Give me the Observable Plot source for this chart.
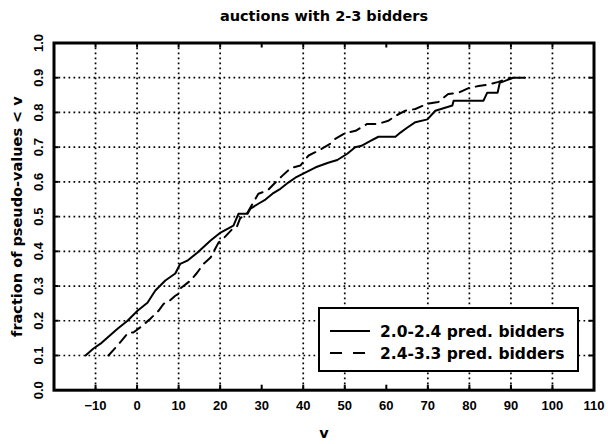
<!DOCTYPE html>
<html>
<head>
<meta charset="utf-8">
<script src="https://cdn.jsdelivr.net/npm/d3@7"></script>
<script src="https://cdn.jsdelivr.net/npm/@observablehq/plot@0.6"></script>
<style>
  html, body { margin: 0; padding: 0; background: #fff; }
  #wrap { position: relative; width: 608px; height: 444px; }
  #legend { position: absolute; left: 318px; top: 307px; }
</style>
</head>
<body>
<div id="wrap"></div>
<script>
// ---- data ----
const title = "auctions with 2-3 bidders";
const xLabel = "v";
const yLabel = "fraction of pseudo-values < v";
const seriesNames = ["2.0-2.4 pred. bidders", "2.4-3.3 pred. bidders"];

const xTicks = [-10, 0, 10, 20, 30, 40, 50, 60, 70, 80, 90, 100, 110];
const xGridTicks = [-10, 0, 10, 20, 40, 50, 70, 80, 90, 100];
const yTicks = [0.0, 0.1, 0.2, 0.3, 0.4, 0.5, 0.6, 0.7, 0.8, 0.9, 1.0];
const yGridTicks = [0.1, 0.2, 0.3, 0.4, 0.5, 0.6, 0.7, 0.8, 0.9];

// series 1: 2.0-2.4 predicted bidders (solid)
const solidV = [-12.4, -10.5, -8.8, -7.1, -4.7, -2.3, 0.1, 2.5, 4.4, 6.8, 9.2, 10.4, 12.1, 14.5, 17.7, 20.1, 23.2, 24.4, 26.6, 27.3, 29.2, 30.9, 32.6, 34.5, 36.4, 38.1, 40.0, 43.0, 46.0, 48.2, 50.6, 52.5, 54.0, 56.2, 58.1, 62.2, 63.4, 65.0, 67.0, 69.9, 71.8, 75.9, 76.2, 83.4, 84.3, 86.8, 87.3, 89.9, 90.5, 93.4];
const solidF = [0.100, 0.120, 0.134, 0.152, 0.177, 0.200, 0.229, 0.252, 0.287, 0.316, 0.336, 0.364, 0.373, 0.396, 0.431, 0.454, 0.474, 0.508, 0.508, 0.523, 0.537, 0.549, 0.566, 0.580, 0.598, 0.612, 0.624, 0.642, 0.655, 0.663, 0.681, 0.700, 0.704, 0.718, 0.730, 0.730, 0.742, 0.756, 0.772, 0.780, 0.805, 0.820, 0.834, 0.834, 0.857, 0.857, 0.885, 0.897, 0.900, 0.900];

// series 2: 2.4-3.3 predicted bidders (dashed)
const dashedV = [-6.9, -4.7, -2.1, -0.9, 1.3, 3.2, 5.2, 6.4, 7.3, 9.2, 10.0, 10.4, 12.9, 14.5, 16.0, 17.7, 19.6, 20.8, 23.0, 24.0, 24.8, 26.5, 28.2, 29.2, 31.4, 33.3, 35.0, 37.0, 39.3, 41.3, 43.7, 46.5, 47.7, 50.2, 52.6, 55.4, 58.0, 60.5, 62.2, 64.6, 67.0, 69.9, 72.5, 74.9, 77.4, 79.8, 82.2, 84.6, 87.0, 88.6, 89.9];
const dashedF = [0.100, 0.129, 0.166, 0.166, 0.186, 0.206, 0.229, 0.249, 0.252, 0.272, 0.278, 0.293, 0.316, 0.339, 0.364, 0.382, 0.425, 0.437, 0.465, 0.470, 0.495, 0.510, 0.545, 0.566, 0.575, 0.598, 0.618, 0.640, 0.647, 0.676, 0.690, 0.710, 0.724, 0.741, 0.747, 0.767, 0.767, 0.776, 0.790, 0.805, 0.810, 0.825, 0.830, 0.853, 0.857, 0.870, 0.876, 0.880, 0.888, 0.895, 0.900];

// ---- chart ----
const W = 608, H = 444;
const mL = 53.5, mR = 14.5, mT = 42.5, mB = 54.3;
const plotH = H - mT - mB, plotW = W - mL - mR;
const tickLen = 5;
const labelFont = "DejaVu Sans, sans-serif";
const tickFont = "Liberation Sans, Arial, sans-serif";

const chart = Plot.plot({
  width: W, height: H,
  marginLeft: mL, marginRight: mR, marginTop: mT, marginBottom: mB,
  style: { background: "white", color: "black" },
  x: { domain: [-20, 110] },
  y: { domain: [0, 1] },
  marks: [
    Plot.gridX(xGridTicks, { stroke: "black", strokeOpacity: 1, strokeWidth: 1.7, strokeDasharray: "1.7,3.3" }),
    Plot.gridY(yGridTicks, { stroke: "black", strokeOpacity: 1, strokeWidth: 1.7, strokeDasharray: "1.7,3.3" }),
    // inward ticks on four sides
    Plot.tickX(xTicks.slice(0, -1), { x: d => d, stroke: "black", strokeWidth: 2, insetTop: plotH - tickLen }),
    Plot.tickX(xTicks.slice(0, -1), { x: d => d, stroke: "black", strokeWidth: 2, insetBottom: plotH - tickLen }),
    Plot.tickY(yGridTicks, { y: d => d, stroke: "black", strokeWidth: 2, insetRight: plotW - tickLen }),
    Plot.tickY(yGridTicks, { y: d => d, stroke: "black", strokeWidth: 2, insetLeft: plotW - tickLen }),
    Plot.line(solidV, { x: solidV, y: solidF, stroke: "black", strokeWidth: 2 }),
    Plot.line(dashedV, { x: dashedV, y: dashedF, stroke: "black", strokeWidth: 2, strokeDasharray: "10,7" }),
    Plot.frame({ stroke: "black", strokeWidth: 3 }),
    Plot.axisX(xTicks, { tickSize: 0, tickPadding: 11, label: null, fontSize: 13, fontWeight: "bold", fontFamily: tickFont }),
    Plot.axisY([], { label: null, tickSize: 0 }),
    Plot.text(yTicks, { y: d => d, text: d => d.toFixed(1), frameAnchor: "left", textAnchor: "middle", lineAnchor: "middle", rotate: -90, dx: -15.5, fontSize: 13, fontWeight: "bold", fontFamily: tickFont }),
    Plot.text([yLabel], { text: d => d, frameAnchor: "left", textAnchor: "middle", lineAnchor: "middle", rotate: -90, dx: -36.5, fontSize: 14.5, fontWeight: "bold", fontFamily: labelFont }),
    Plot.text([xLabel], { text: d => d, frameAnchor: "bottom", textAnchor: "middle", lineAnchor: "middle", dy: 43, fontSize: 14.5, fontWeight: "bold", fontFamily: labelFont }),
    Plot.text([title], { text: d => d, frameAnchor: "top", textAnchor: "middle", lineAnchor: "middle", dy: -26.5, fontSize: 14.5, fontWeight: "bold", fontFamily: labelFont })
  ]
});
document.getElementById("wrap").appendChild(chart);

// ---- legend ----
const lg = d3.select("#wrap").append("svg").attr("id", "legend")
  .attr("width", 262).attr("height", 66);
lg.append("rect").attr("x", 1).attr("y", 1).attr("width", 259).attr("height", 63)
  .attr("fill", "white").attr("stroke", "black").attr("stroke-width", 2);
const rows = [{ name: seriesNames[0], dash: null, y: 24 }, { name: seriesNames[1], dash: "12,11", y: 46 }];
for (const r of rows) {
  lg.append("line").attr("x1", 12).attr("x2", 52).attr("y1", r.y).attr("y2", r.y)
    .attr("stroke", "black").attr("stroke-width", 2).attr("stroke-dasharray", r.dash);
  lg.append("text").attr("x", 62).attr("y", r.y).attr("dy", "0.36em")
    .attr("font-family", labelFont).attr("font-weight", "bold").attr("font-size", 15.5)
    .text(r.name);
}
</script>
</body>
</html>
